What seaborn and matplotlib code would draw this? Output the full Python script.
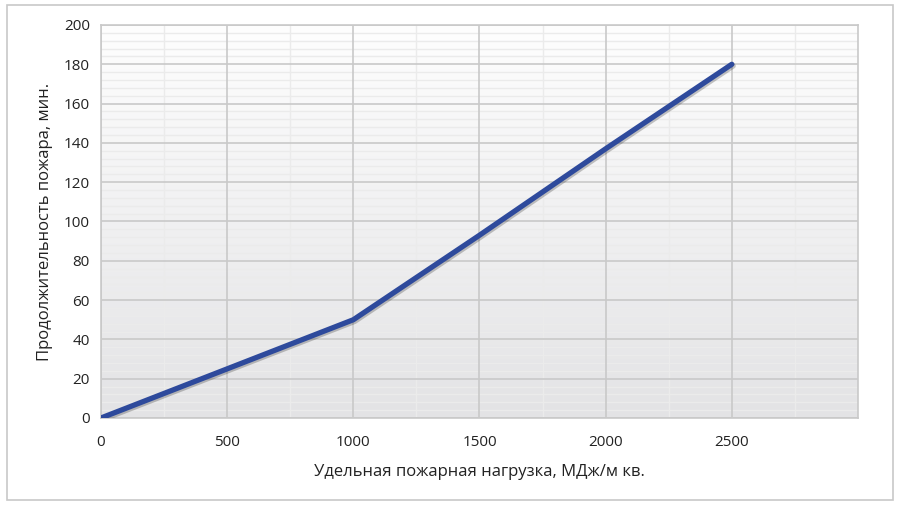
import numpy as np
import pandas as pd
import seaborn as sns
import matplotlib.pyplot as plt
import matplotlib.patheffects as pe
from matplotlib.patches import Rectangle

# fire load vs fire duration
load = [0, 500, 1000, 1500, 2000, 2500]
duration = [0, 25, 50, 93, 137, 180]
x_ticks = [0, 500, 1000, 1500, 2000, 2500]
y_ticks = [0, 20, 40, 60, 80, 100, 120, 140, 160, 180, 200]

df = pd.DataFrame({"load": load, "duration": duration})

sns.set_theme(style="white")
plt.rcParams["font.family"] = ["Open Sans", "DejaVu Sans"]

fig = plt.figure(figsize=(9, 5.09), dpi=100)
ax = fig.add_axes([0.1122, 0.1788, 0.8411, 0.7721])

# gradient plot area
grad = np.linspace(0, 1, 256).reshape(-1, 1)
ax.imshow(grad, cmap=sns.blend_palette(["#fefefe", "#e3e3e5"], as_cmap=True),
          extent=[0, 1, 0, 1], transform=ax.transAxes, aspect="auto", zorder=0)

sns.lineplot(data=df, x="load", y="duration", ax=ax, color="#2e4a9c",
             linewidth=3.8, zorder=5, solid_capstyle="round",
             path_effects=[pe.SimpleLineShadow(offset=(1, -1.2), alpha=0.25),
                           pe.Normal()])

ax.set_xlim(0, 3000)
ax.set_ylim(0, 200)
ax.set_xticks(x_ticks)
ax.set_yticks(y_ticks)

# minor grid drawn by hand so it stays under the major grid
for xm in np.arange(250, 3000, 500):
    ax.axvline(xm, color="#ebebeb", linewidth=1, zorder=1)
for ym in np.arange(4, 200, 4):
    if ym % 20:
        ax.axhline(ym, color="#ebebeb", linewidth=1, zorder=1)

ax.set_axisbelow(False)
ax.grid(which="major", color="#c9c9c9", linewidth=1.2)
ax.tick_params(which="both", length=0, labelsize=11, colors="#222222")
ax.tick_params(axis="x", pad=12)
ax.tick_params(axis="y", pad=8)

for s in ax.spines.values():
    s.set_color("#c9c9c9")
    s.set_linewidth(1.2)

ax.set_xlabel("Удельная пожарная нагрузка, МДж/м кв.", fontsize=12, color="#222222", labelpad=10)
ax.set_ylabel("Продолжительность пожара, мин.", fontsize=12, color="#222222", labelpad=8)

fig.patches.append(Rectangle((0.008, 0.018), 0.984, 0.972, transform=fig.transFigure,
                             fill=False, edgecolor="#c8c8c8", linewidth=1.2))

fig.savefig("out.png", dpi=100)
